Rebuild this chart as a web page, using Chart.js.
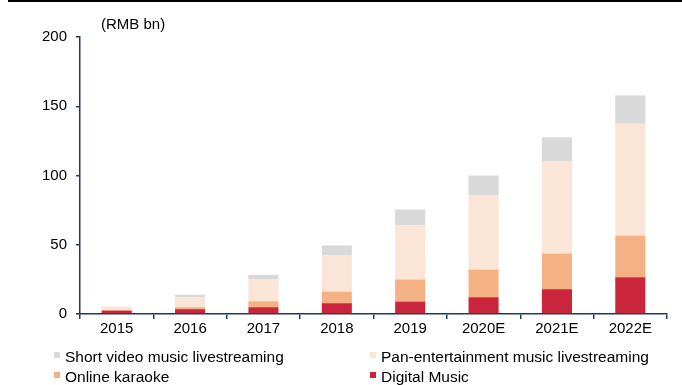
<!DOCTYPE html>
<html>
<head>
<meta charset="utf-8">
<script src="https://cdn.jsdelivr.net/npm/chart.js@4"></script>
<style>
  body { margin: 0; background: #fff; }
  #wrap { position: relative; width: 682px; height: 385px; overflow: hidden; }
  #topline { position: absolute; left: 8px; top: 0; width: 674px; height: 2px; background: #000; }
  #legend { position: absolute; left: 0; top: 0; font-family: "Liberation Sans", Arial, sans-serif;
            font-size: 15.5px; color: #000; }
  .swatch { position: absolute; width: 6px; height: 6px; }
  .label { position: absolute; white-space: nowrap; line-height: 18px; }
</style>
</head>
<body>
<div id="wrap">
  <canvas id="chart" width="682" height="385"></canvas>
  <div id="topline"></div>
  <div id="legend"></div>
</div>
<script>
// Market size by segment, RMB bn
var years = ["2015", "2016", "2017", "2018", "2019", "2020E", "2021E", "2022E"];
var digitalMusic = [2.4, 3.5, 4.9, 7.8, 9.0, 12.1, 17.9, 26.6];
var onlineKaraoke = [0.5, 1.4, 4.3, 8.4, 15.9, 20.0, 25.8, 30.1];
var panEntertainment = [2.5, 7.2, 15.7, 26.0, 39.0, 53.5, 66.4, 80.6];
var shortVideo = [0, 1.8, 3.4, 7.3, 11.6, 14.4, 17.5, 20.5];
var yTicks = [0, 50, 100, 150, 200];

var navy = '#1f3864';
var font = '"Liberation Sans", Arial, sans-serif';

// legend: two columns, two rows
var legendItems = [
    { label: "Short video music livestreaming", color: '#d9d9d9', x: 54, y: 352 },
    { label: "Pan-entertainment music livestreaming", color: '#fbe5d6', x: 370, y: 352 },
    { label: "Online karaoke", color: '#f4b183', x: 54, y: 372 },
    { label: "Digital Music", color: '#c9253b', x: 370, y: 372 }
];
var legend = document.getElementById('legend');
legendItems.forEach(function (it) {
    var sw = document.createElement('div');
    sw.className = 'swatch';
    sw.style.left = it.x + 'px';
    sw.style.top = it.y + 'px';
    sw.style.background = it.color;
    legend.appendChild(sw);
    var lb = document.createElement('div');
    lb.className = 'label';
    lb.style.left = (it.x + 11) + 'px';
    lb.style.top = (it.y - 4) + 'px';
    lb.textContent = it.label;
    legend.appendChild(lb);
});

// unit label above the y axis
var unitLabel = {
    id: 'unitLabel',
    afterDraw: function (chart) {
        var ctx = chart.ctx;
        ctx.save();
        ctx.font = '15px ' + font;
        ctx.fillStyle = '#000';
        ctx.textBaseline = 'middle';
        ctx.fillText('(RMB bn)', 101, 25);
        ctx.restore();
    }
};

var ctx = document.getElementById('chart').getContext('2d');
var chart = new Chart(ctx, {
    type: 'bar',
    data: {
        labels: years,
        datasets: [{
            label: "Digital Music",
            data: digitalMusic,
            backgroundColor: '#c9253b'
        }, {
            label: "Online karaoke",
            data: onlineKaraoke,
            backgroundColor: '#f4b183'
        }, {
            label: "Pan-entertainment music livestreaming",
            data: panEntertainment,
            backgroundColor: '#fbe5d6'
        }, {
            label: "Short video music livestreaming",
            data: shortVideo,
            backgroundColor: '#d9d9d9'
        }]
    },
    options: {
        responsive: false,
        animation: false,
        layout: { padding: { left: 0, right: 15, top: 37, bottom: 46 } },
        datasets: { bar: { categoryPercentage: 1, barPercentage: 0.41 } },
        plugins: {
            legend: { display: false },
            tooltip: { enabled: false }
        },
        scales: {
            x: {
                stacked: true,
                grid: { offset: true, drawOnChartArea: false, color: navy, tickLength: 5, lineWidth: 1.5 },
                border: { color: navy, width: 1.5 },
                ticks: { color: '#000', padding: 1, font: { family: font, size: 15 } }
            },
            y: {
                stacked: true,
                min: 0,
                max: 200,
                afterFit: function (scale) { scale.width = 80; },
                afterBuildTicks: function (scale) {
                    scale.ticks = yTicks.map(function (v) { return { value: v }; });
                },
                grid: { drawOnChartArea: false, color: navy, tickLength: 4, lineWidth: 1.5 },
                border: { color: navy, width: 1.5 },
                ticks: { color: '#000', padding: 9, font: { family: font, size: 15 } }
            }
        }
    },
    plugins: [unitLabel]
});
</script>
</body>
</html>
